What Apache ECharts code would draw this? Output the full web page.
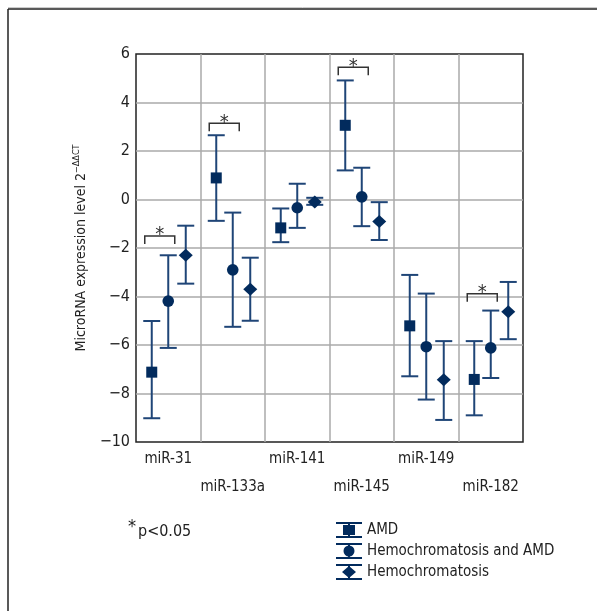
<!DOCTYPE html>
<html>
<head>
<meta charset="utf-8">
<script src="https://cdn.jsdelivr.net/npm/echarts@6/dist/echarts.min.js"></script>
<style>
  html, body { margin: 0; padding: 0; background: #fff; }
  #chart { width: 597px; height: 611px; }
</style>
</head>
<body>
<div id="chart"></div>
<script>
const categories = ["miR-31", "miR-133a", "miR-141", "miR-145", "miR-149", "miR-182"];
const seriesNames = ["AMD", "Hemochromatosis and AMD", "Hemochromatosis"];

// mean, lower and upper end of error bar
const amdMean = [-7.12, 0.89, -1.17, 3.06, -5.21, -7.42];
const amdLow = [-9.02, -0.88, -1.76, 1.2, -7.29, -8.9];
const amdHigh = [-5.01, 2.65, -0.37, 4.91, -3.11, -5.84];

const bothMean = [-4.19, -2.9, -0.34, 0.11, -6.07, -6.12];
const bothLow = [-6.12, -5.25, -1.17, -1.1, -8.25, -7.36];
const bothHigh = [-2.3, -0.54, 0.65, 1.31, -3.88, -4.58];

const hemoMean = [-2.3, -3.7, -0.1, -0.91, -7.43, -4.63];
const hemoLow = [-3.47, -5.0, -0.22, -1.67, -9.09, -5.76];
const hemoHigh = [-1.08, -2.4, 0.07, -0.11, -5.84, -3.4];

// significance brackets (category index, height)
const sigCats = [0, 1, 3, 5];
const sigY = [-1.51, 3.14, 5.45, -3.89];

const yTicks = [-10, -8, -6, -4, -2, 0, 2, 4, 6];

const navy = "#022b5d";
const barColor = "#1f4577";
const font = '"Liberation Sans Narrow", "DejaVu Sans Condensed", sans-serif';

function rows(mean, low, high) {
  return categories.map((c, i) => [i, mean[i], low[i], high[i]]);
}

function errorItem(offset, shape) {
  return function (params, api) {
    const c = api.coord([api.value(0), api.value(1)]);
    const lo = api.coord([api.value(0), api.value(2)]);
    const hi = api.coord([api.value(0), api.value(3)]);
    const x = c[0] + offset;
    const ls = { stroke: barColor, lineWidth: 2 };
    let marker;
    if (shape === "square") {
      marker = { type: "rect", shape: { x: x - 5.5, y: c[1] - 5.5, width: 11, height: 11 }, style: { fill: navy } };
    } else if (shape === "circle") {
      marker = { type: "circle", shape: { cx: x, cy: c[1], r: 5.8 }, style: { fill: navy } };
    } else {
      marker = { type: "polygon", shape: { points: [[x, c[1] - 6.5], [x + 7, c[1]], [x, c[1] + 6.5], [x - 7, c[1]]] }, style: { fill: navy } };
    }
    return {
      type: "group",
      children: [
        { type: "line", shape: { x1: x, y1: lo[1], x2: x, y2: hi[1] }, style: ls },
        { type: "line", shape: { x1: x - 8.5, y1: lo[1], x2: x + 8.5, y2: lo[1] }, style: ls },
        { type: "line", shape: { x1: x - 8.5, y1: hi[1], x2: x + 8.5, y2: hi[1] }, style: ls },
        marker
      ]
    };
  };
}

function sigItem(params, api) {
  const p = api.coord([api.value(0), api.value(1)]);
  const cx = p[0] - 8.5;
  return {
    type: "group",
    children: [
      {
        type: "polyline",
        shape: { points: [[cx - 15, p[1] + 8], [cx - 15, p[1]], [cx + 15, p[1]], [cx + 15, p[1] + 8]] },
        style: { stroke: "#333", lineWidth: 1.5, fill: null }
      },
      {
        type: "text",
        style: { x: cx, y: p[1] + 9, text: "*", fill: "#333", font: "20px " + font, align: "center", verticalAlign: "bottom" }
      }
    ]
  };
}

// legend icons: error bar with marker, 26 x 16 box
const capPath = "M0,0 L26,0 L26,2 L0,2 Z M0,14 L26,14 L26,16 L0,16 Z M12,0 L14,0 L14,16 L12,16 Z ";
const icons = [
  "path://" + capPath + "M7,3 L19,3 L19,13 L7,13 Z",
  "path://" + capPath + "M13,2.5 A5.5,5.5 0 1,1 13,13.5 A5.5,5.5 0 1,1 13,2.5 Z",
  "path://" + capPath + "M13,2 L20,8 L13,14 L6,8 Z"
];

const chart = echarts.init(document.getElementById("chart"));

const option = {
  backgroundColor: "#fff",
  animation: false,
  textStyle: { fontFamily: font, color: "#222" },
  grid: { left: 136, right: 74, top: 54, bottom: 169, show: true, borderColor: "#222", borderWidth: 1.5 },
  legend: {
    orient: "vertical",
    left: 331,
    top: 517,
    itemWidth: 26,
    itemHeight: 16,
    itemGap: 5,
    textStyle: { fontFamily: font, fontSize: 15, color: "#222" },
    data: seriesNames.map((n, i) => ({ name: n, icon: icons[i] }))
  },
  xAxis: {
    type: "category",
    data: categories,
    boundaryGap: true,
    axisLine: { show: false },
    axisTick: { show: false },
    axisLabel: {
      interval: 0,
      fontSize: 15,
      color: "#222",
      margin: 3,
      lineHeight: 28,
      formatter: (v, i) => (i % 2 ? "\n" + v : v)
    },
    splitLine: { show: true, interval: 0, showMinLine: false, showMaxLine: false, lineStyle: { color: "#aaa", width: 1.5 } }
  },
  yAxis: {
    type: "value",
    min: -10,
    max: 6,
    interval: 2,
    axisLine: { show: false },
    axisTick: { show: false },
    axisLabel: {
      fontSize: 16,
      color: "#222",
      margin: 6,
      formatter: v => (yTicks.includes(v) ? String(v).replace("-", "\u2212") : "")
    },
    splitLine: { show: true, showMinLine: false, showMaxLine: false, lineStyle: { color: "#aaa", width: 1.5 } },
    name: "{a|MicroRNA expression level 2}{b|\u2212\u0394\u0394CT}",
    nameLocation: "middle",
    nameGap: 46,
    nameTextStyle: {
      rich: {
        a: { fontFamily: font, fontSize: 14, color: "#222", lineHeight: 18 },
        b: { fontFamily: font, fontSize: 9, color: "#222", verticalAlign: "top", lineHeight: 18 }
      }
    }
  },
  series: [
    { name: seriesNames[0], type: "custom", itemStyle: { color: navy }, renderItem: errorItem(-16.5, "square"), data: rows(amdMean, amdLow, amdHigh) },
    { name: seriesNames[1], type: "custom", itemStyle: { color: navy }, renderItem: errorItem(0, "circle"), data: rows(bothMean, bothLow, bothHigh) },
    { name: seriesNames[2], type: "custom", itemStyle: { color: navy }, renderItem: errorItem(17.5, "diamond"), data: rows(hemoMean, hemoLow, hemoHigh) },
    { type: "custom", renderItem: sigItem, silent: true, data: sigCats.map((c, i) => [c, sigY[i]]) }
  ],
  graphic: [
    { type: "line", shape: { x1: 8, y1: 7.5, x2: 597, y2: 7.5 }, style: { stroke: "#ccc", lineWidth: 1 } },
    { type: "line", shape: { x1: 8, y1: 9, x2: 597, y2: 9 }, style: { stroke: "#222", lineWidth: 1.5 } },
    { type: "line", shape: { x1: 8, y1: 9, x2: 8, y2: 611 }, style: { stroke: "#222", lineWidth: 1.5 } },
    { type: "text", left: 128, top: 518, style: { text: "*", font: "18px " + font, fill: "#222" } },
    { type: "text", left: 138, top: 524, style: { text: "p<0.05", font: "16px " + font, fill: "#222" } }
  ]
};

chart.setOption(option);
window.onresize = () => {
  chart.resize();
};
</script>
</body>
</html>
